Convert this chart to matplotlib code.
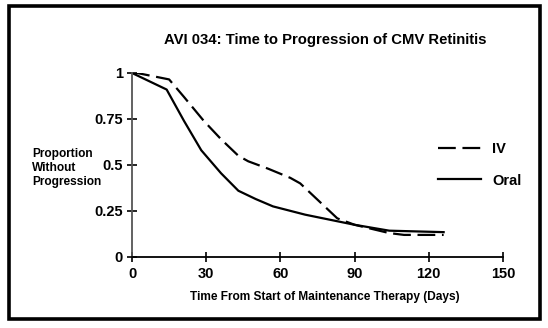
import matplotlib
matplotlib.use("Agg")
import matplotlib.pyplot as plt
from matplotlib.patches import Rectangle

# Proportion without progression over time (days), per treatment arm
oral_days = [0, 14, 21, 28, 36, 43, 50, 57, 70, 90, 104, 126]
oral_prop = [1.0, 0.91, 0.74, 0.58, 0.455, 0.36, 0.315, 0.275, 0.23, 0.175, 0.143, 0.135]

iv_days = [0, 2, 15, 21, 29, 36, 43, 47, 55, 64, 68, 83, 90, 104, 110, 126]
iv_prop = [1.0, 1.0, 0.965, 0.87, 0.74, 0.64, 0.55, 0.52, 0.48, 0.43, 0.40, 0.21, 0.175, 0.13, 0.12, 0.12]

x_ticks = [0, 30, 60, 90, 120, 150]
y_ticks = [0, 0.25, 0.5, 0.75, 1]
y_tick_labels = ["0", "0.25", "0.5", "0.75", "1"]

plt.rcParams['font.family'] = ['Liberation Sans', 'DejaVu Sans']
plt.rcParams['font.weight'] = 'bold'

fig = plt.figure(figsize=(5.48, 3.28), dpi=100)
ax = fig.add_axes([0.2409, 0.2165, 0.677, 0.561])

ax.plot(iv_days, iv_prop, color='black', lw=1.6, dashes=(8, 3), label='IV')
ax.plot(oral_days, oral_prop, color='black', lw=1.6, label='Oral')

ax.set_xlim(0, 150)
ax.set_ylim(0, 1)
ax.set_xticks(x_ticks)
ax.set_yticks(y_ticks)
ax.set_yticklabels(y_tick_labels)

for side in ['top', 'right']:
    ax.spines[side].set_visible(False)
ax.spines['left'].set_color('#555555')
ax.spines['left'].set_linewidth(1.3)
ax.spines['bottom'].set_color('black')
ax.spines['bottom'].set_linewidth(1.3)

ax.tick_params(axis='x', direction='inout', length=7, width=1.2, pad=4, labelsize=10.5)
ax.tick_params(axis='y', direction='inout', length=7, width=1.2, pad=3, labelsize=10.5)

fig.text(0.593, 0.878, 'AVI 034: Time to Progression of CMV Retinitis',
         ha='center', va='center', fontsize=10.7, fontweight='bold')
fig.text(0.593, 0.095, 'Time From Start of Maintenance Therapy (Days)',
         ha='center', va='center', fontsize=8.6, fontweight='bold')
fig.text(0.058, 0.488, 'Proportion\nWithout\nProgression',
         ha='left', va='center', fontsize=8.6, fontweight='bold', linespacing=1.2)

leg = ax.legend(loc='upper left', bbox_to_anchor=(0.79, 0.696), frameon=False,
                fontsize=10.5, handlelength=2.95, handletextpad=0.75, labelspacing=1.2)

# outer frame around the whole chart
fig.patches.append(Rectangle((0.0165, 0.028), 0.969, 0.955, transform=fig.transFigure,
                             fill=False, edgecolor='black', lw=2.6))

fig.savefig('out.png', dpi=100)
